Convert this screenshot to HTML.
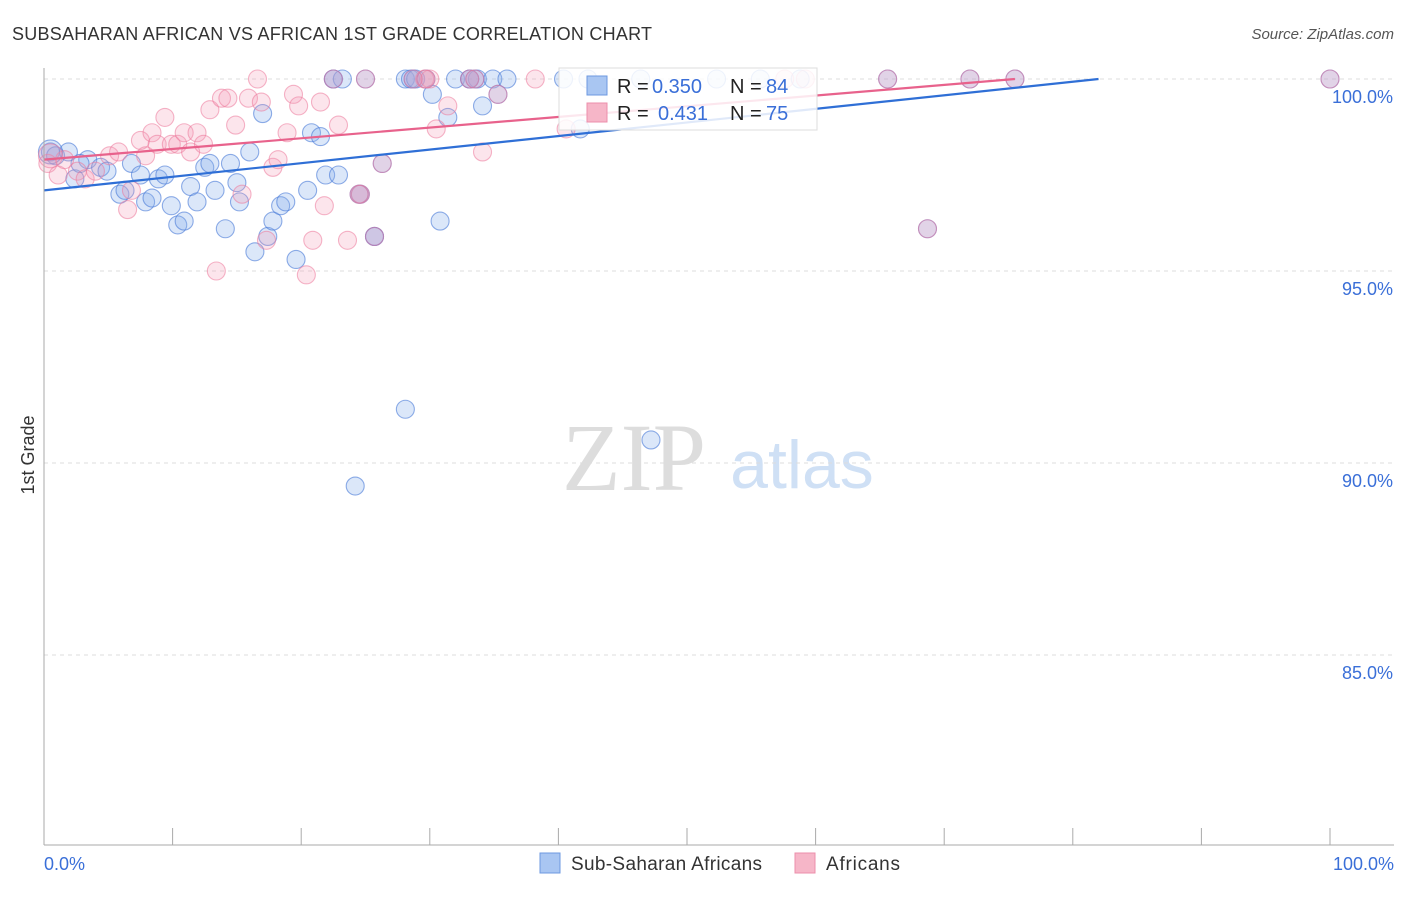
<!DOCTYPE html>
<html><head><meta charset="utf-8"><style>
body{margin:0;background:#fff;font-family:"Liberation Sans",sans-serif}
</style></head><body>
<svg id="c" width="1406" height="892" xmlns="http://www.w3.org/2000/svg">
<text x="12" y="40" font-size="18" fill="#333" textLength="640">SUBSAHARAN AFRICAN VS AFRICAN 1ST GRADE CORRELATION CHART</text>
<text x="1394" y="39" font-size="15" fill="#555" text-anchor="end" font-style="italic">Source: ZipAtlas.com</text>
<text x="634" y="490" font-size="96" fill="#ddd" text-anchor="middle" font-family="Liberation Serif">ZIP</text>
<text x="802" y="488" font-size="68" fill="#cfe0f5" text-anchor="middle">atlas</text>
<text transform="translate(34,455) rotate(-90)" font-size="18" fill="#333" text-anchor="middle">1st Grade</text>
<g id="grid"></g><g id="pts"></g><g id="lines"></g>
<line x1="44" y1="68" x2="44" y2="845" stroke="#aaa"/>
<line x1="44" y1="845" x2="1394" y2="845" stroke="#aaa"/>
<text x="44" y="870" font-size="18" fill="#3a6fd8">0.0%</text>
<text x="1394" y="870" font-size="18" fill="#3a6fd8" text-anchor="end">100.0%</text>
<g>
<rect x="559" y="68" width="258" height="62" fill="#fff" fill-opacity="0.85" stroke="#ddd"/>
<rect x="587" y="76" width="20" height="19" fill="#a9c6f2" stroke="#6d98e0"/>
<rect x="587" y="103" width="20" height="19" fill="#f6b6c8" stroke="#ec8fab"/>
<text x="617" y="93" font-size="20" fill="#222">R =</text>
<text x="652" y="93" font-size="20" fill="#3a6fd8">0.350</text>
<text x="730" y="93" font-size="20" fill="#222">N =</text>
<text x="766" y="93" font-size="20" fill="#3a6fd8">84</text>
<text x="617" y="120" font-size="20" fill="#222">R =</text>
<text x="658" y="120" font-size="20" fill="#3a6fd8">0.431</text>
<text x="730" y="120" font-size="20" fill="#222">N =</text>
<text x="766" y="120" font-size="20" fill="#3a6fd8">75</text>
</g>
<g><rect x="540" y="853" width="20" height="20" fill="#a9c6f2" stroke="#6d98e0"/><text x="571" y="870" font-size="19" fill="#333" textLength="191">Sub-Saharan Africans</text></g>
<g><rect x="795" y="853" width="20" height="20" fill="#f6b6c8" stroke="#ec8fab"/><text x="826" y="870" font-size="19" fill="#333" textLength="74">Africans</text></g>
</svg>
<script>
const yTicks=[100,95,90,85];
const xTicks=[0,10,20,30,40,50,60,70,80,90,100];
const blueX=[0.5,0.9,1.9,2.4,3.4,2.8,4.4,4.9,5.9,6.3,6.8,7.5,7.9,8.4,8.9,9.4,9.9,10.4,10.9,11.4,11.9,12.5,12.9,13.3,14.1,14.5,15,15.2,16,16.4,17.0,17.4,17.8,18.4,18.8,19.6,20.5,20.8,21.5,21.9,22.9,22.5,23.2,24.6,25.7,28.1,28.5,28.9,28.1,30.2,30.8,31.4,32,33.1,33.7,34.1,34.9,36,24.2,40.4,42.3,46.4,47.2,52.3,55.7,58.8,41.7,0.5,22.5,25,28.7,29.7,33.1,33.5,35.3,24.5,25.7,26.3,65.6,72,75.5,68.7,100];
const blueY=[98.1,98,98.1,97.4,97.9,97.8,97.7,97.6,97,97.1,97.8,97.5,96.8,96.9,97.4,97.5,96.7,96.2,96.3,97.2,96.8,97.7,97.8,97.1,96.1,97.8,97.3,96.8,98.1,95.5,99.1,95.9,96.3,96.7,96.8,95.3,97.1,98.6,98.5,97.5,97.5,100,100,97,95.9,100,100,100,91.4,99.6,96.3,99,100,100,100,99.3,100,100,89.4,100,100,100,90.6,100,100,100,98.7,98.1,100,100,100,100,100,100,99.6,97,95.9,97.8,100,100,100,96.1,100];
const pinkX=[0.3,1.1,1.6,2.6,3.2,4,5.1,5.8,6.5,6.8,7.5,7.9,8.4,8.8,9.4,9.9,10.4,10.9,11.4,11.9,12.4,12.9,13.4,13.8,14.3,14.9,15.4,15.9,16.6,16.9,17.3,17.8,18.2,18.9,19.4,19.8,20.4,20.9,21.5,21.8,22.9,23.6,24.6,29.6,30,30.5,31.4,34.1,38.2,40.6,59.2,0.5,22.5,25,28.7,29.7,33.1,33.5,35.3,24.5,25.7,26.3,65.6,72,75.5,68.7,100,57.6];
const pinkY=[97.8,97.5,97.9,97.6,97.4,97.6,98,98.1,96.6,97.1,98.4,98,98.6,98.3,99,98.3,98.3,98.6,98.1,98.6,98.3,99.2,95,99.5,99.5,98.8,97,99.5,100,99.4,95.8,97.7,97.9,98.6,99.6,99.3,94.9,95.8,99.4,96.7,98.8,95.8,97,100,100,98.7,99.3,98.1,100,98.7,100,98,100,100,100,100,100,100,99.6,97,95.9,97.8,100,100,100,96.1,100,100];
const blueLine=[97.1,100.0],pinkLine=[97.9,100.0];
const blueEnd=82,pinkEnd=75.5;
const X=v=>44+v*12.86, Y=v=>79+(100-v)*38.4;
const NS='http://www.w3.org/2000/svg';
const grid=document.getElementById('grid'),pts=document.getElementById('pts'),lines=document.getElementById('lines');
function mk(tag,at,parent){const e=document.createElementNS(NS,tag);for(const k in at)e.setAttribute(k,at[k]);parent.appendChild(e);return e;}
yTicks.forEach(t=>{
 const l=mk('line',{x1:44,x2:1394,y1:Y(t),y2:Y(t),stroke:'#ddd','stroke-dasharray':'4,4'},grid);
 
 
 const tx=mk('text',{x:1393,y:Y(t)+24,'font-size':18,fill:'#3a6fd8','text-anchor':'end'},grid);
 tx.textContent=t.toFixed(1)+'%';
 
 
});
xTicks.forEach(t=>{
 const l=mk('line',{x1:X(t),x2:X(t),y1:828,y2:845,stroke:'#aaa'},grid);
 
 
});
blueX.forEach((v,i)=>{
 const c=mk('circle',{cx:X(v),cy:Y(blueY[i]),r:i==67?12:9,fill:'rgba(137,176,236,0.3)',stroke:'rgba(70,120,215,0.6)','stroke-width':1.1},pts);
 
 
});
pinkX.forEach((v,i)=>{
 const c=mk('circle',{cx:X(v),cy:Y(pinkY[i]),r:i==51?12:9,fill:'rgba(244,150,178,0.25)',stroke:'rgba(236,120,155,0.55)','stroke-width':1.1},pts);
 
 
});
const bl=mk('line',{x1:X(0),y1:Y(blueLine[0]),x2:X(blueEnd),y2:Y(blueLine[1]),stroke:'#2f6fd6','stroke-width':2.2},lines);


const pl=mk('line',{x1:X(0),y1:Y(pinkLine[0]),x2:X(pinkEnd),y2:Y(pinkLine[1]),stroke:'#e8628c','stroke-width':2.2},lines);


</script>
</body></html>
